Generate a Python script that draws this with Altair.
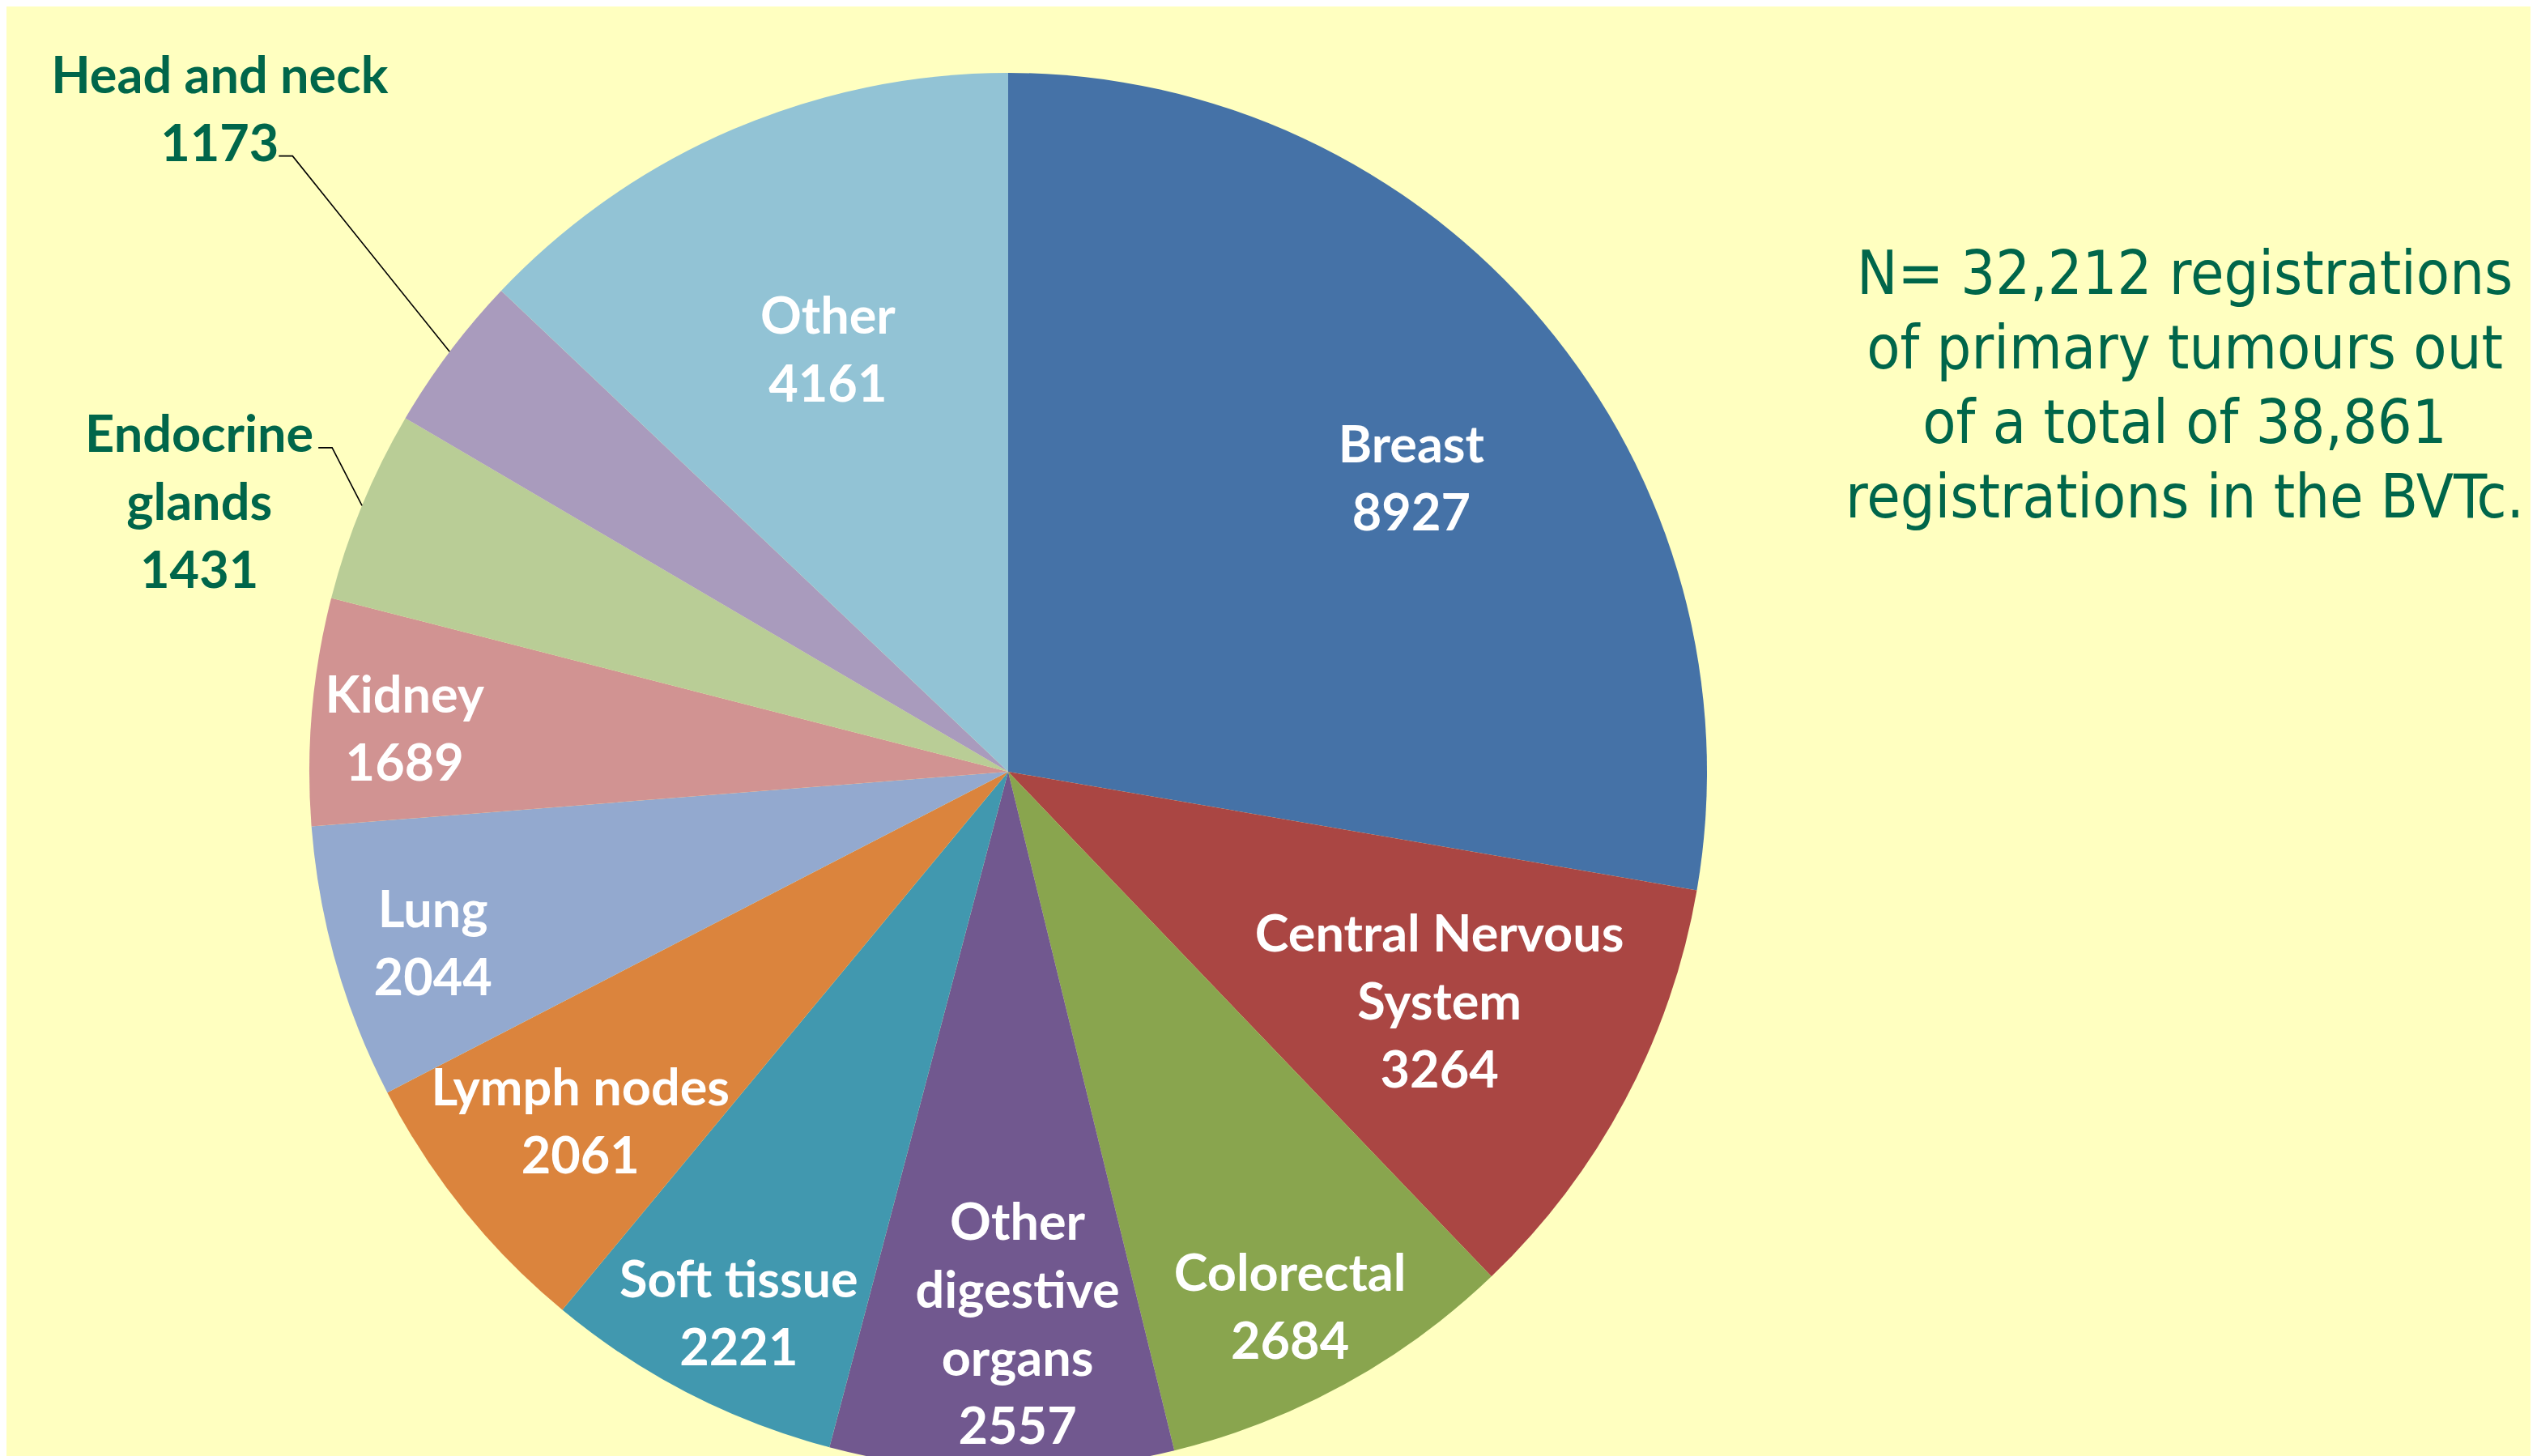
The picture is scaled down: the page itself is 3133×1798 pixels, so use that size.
import math
import altair as alt
import pandas as pd

# ---- data ----
categories = ["Breast", "Central Nervous System", "Colorectal", "Other digestive organs",
              "Soft tissue", "Lymph nodes", "Lung", "Kidney", "Endocrine glands",
              "Head and neck", "Other"]
label_text = ["Breast", "Central Nervous\nSystem", "Colorectal", "Other\ndigestive\norgans",
              "Soft tissue", "Lymph nodes", "Lung", "Kidney", "Endocrine\nglands",
              "Head and neck", "Other"]
counts = [8927, 3264, 2684, 2557, 2221, 2061, 2044, 1689, 1431, 1173, 4161]
note_lines = ["N= 32,212 registrations", " of primary tumours out",
              "of a total of 38,861", "registrations in the BVTc."]

# ---- styles / layout ----
colors = ["#4572A7", "#AA4643", "#89A54E", "#71588F", "#4198AF", "#DB843D",
          "#93A9CF", "#D19392", "#B9CD96", "#A99BBD", "#92C3D5"]
outside = [False] * 8 + [True, True, False]
label_r = [614, 605, 750, 685, 750, 684, 742, 747, 1052, 1270, 564]
label_shift = [4.3, 0.3, 1.1, -1.5, -0.9, -0.6, -0.9, -1.1, -4.1, 3.0, 0.0]
kink = {"Endocrine glands": (164, -70), "Head and neck": (90, 55)}
BG = "#FFFFC0"
GREEN = "#00664A"
W, H = 3117, 1790
CX, CY, R = 1237, 945, 863
LH = 84
NOTE_LH = 92

df = pd.DataFrame({"category": categories, "count": counts, "idx": list(range(len(counts)))})

total = sum(counts)
cum = 0
lab_rows, line_rows = [], []
for i, (c, v) in enumerate(zip(categories, counts)):
    mid = (cum + v / 2) / total * 2 * math.pi
    cum += v
    a = mid + math.radians(label_shift[i])
    lx = CX + label_r[i] * math.sin(a)
    ly = CY - label_r[i] * math.cos(a)
    txt = f"{label_text[i]}\n{v}"
    n_lines = txt.count("\n") + 1
    lab_rows.append({"text": txt, "x": lx, "y": ly - (n_lines - 1) * LH / 2,
                     "tc": GREEN if outside[i] else "white"})
    if c in kink:
        ex = CX + R * math.sin(mid)
        ey = CY - R * math.cos(mid)
        kx, ky = lx + kink[c][0], ly + kink[c][1]
        pts = [(ex, ey), (kx, ky), (kx - 17, ky)]
        for j, (px, py) in enumerate(pts):
            line_rows.append({"cat": c, "o": j, "x": px, "y": py})

ldf = pd.DataFrame(lab_rows)
lines_df = pd.DataFrame(line_rows)

pie = alt.Chart(df).mark_arc(outerRadius=R, innerRadius=0, stroke=None).encode(
    theta=alt.Theta("count:Q", stack=True),
    color=alt.Color("category:N", scale=alt.Scale(domain=categories, range=colors), legend=None),
    order=alt.Order("idx:Q"),
    x=alt.value(CX),
    y=alt.value(CY),
)

labels = alt.Chart(ldf).mark_text(
    font="Lato", fontWeight="bold", fontSize=63, lineBreak="\n", lineHeight=LH,
    align="center", baseline="middle"
).encode(
    x=alt.X("x:Q", scale=None),
    y=alt.Y("y:Q", scale=None),
    text="text:N",
    color=alt.Color("tc:N", scale=None),
)

leaders = alt.Chart(lines_df).mark_line(color="black", strokeWidth=1.6).encode(
    x=alt.X("x:Q", scale=None),
    y=alt.Y("y:Q", scale=None),
    detail="cat:N",
    order="o:Q",
)

note_df = pd.DataFrame({"t": ["\n".join(note_lines)]})
note = alt.Chart(note_df).mark_text(
    font="DejaVu Sans Condensed", fontSize=75, lineBreak="\n", lineHeight=NOTE_LH,
    align="center", baseline="middle", color=GREEN
).encode(
    text="t:N",
    x=alt.value(2690),
    y=alt.value(332),
)

chart = alt.layer(pie, leaders, labels, note).properties(
    width=W, height=H,
    autosize=alt.AutoSizeParams(type="none"),
    padding=0,
    background=BG,
).configure_view(stroke=None)

chart.save("out.html", embed_options={"renderer": "svg", "actions": False})
